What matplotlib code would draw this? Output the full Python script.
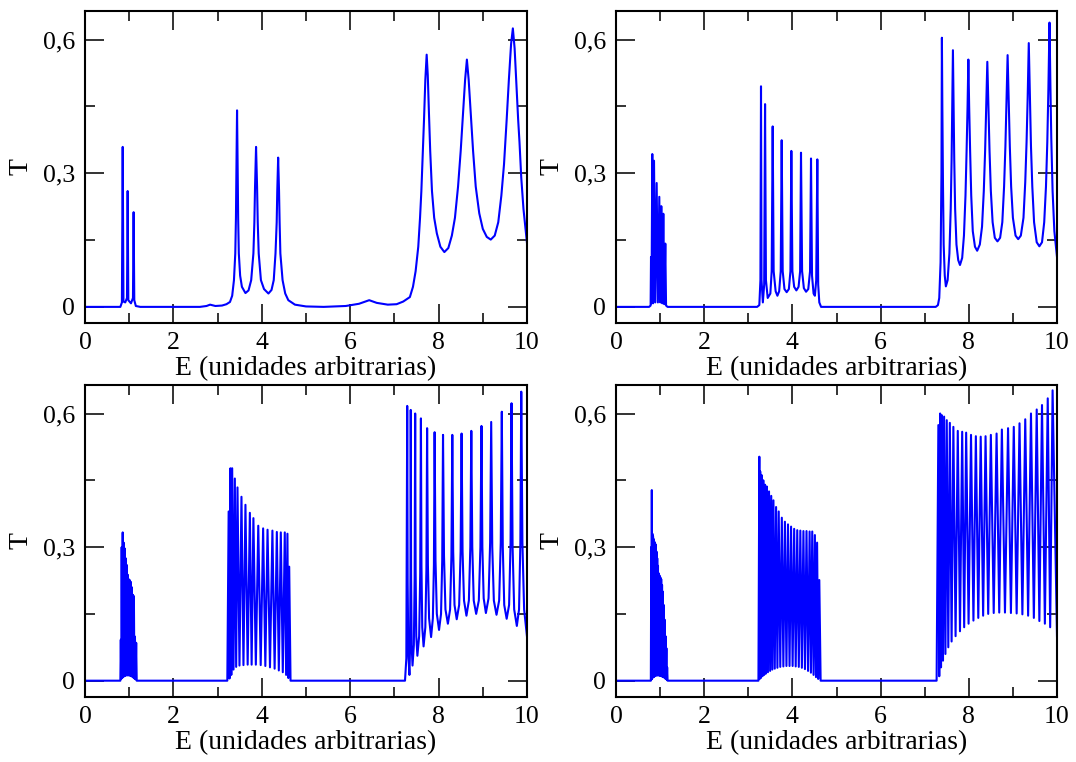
import matplotlib
matplotlib.use("Agg")
import matplotlib.pyplot as plt
from matplotlib.ticker import MultipleLocator, FixedLocator, FuncFormatter

plt.rcParams['font.family'] = ['Liberation Serif', 'DejaVu Serif']

# ---------------- data ----------------
X_LABEL = "E (unidades arbitrarias)"
Y_LABEL = "T"
x_ticks = [0, 2, 4, 6, 8, 10]
y_ticks = [0.0, 0.3, 0.6]
y_tick_labels = ["0", "0,3", "0,6"]

# Panel 1 (top left): polyline vertices (E, T)
tl_E = [0.0, 0.80, 0.835, 0.853, 0.87, 0.91, 0.95, 0.965, 0.98, 1.04, 1.085, 1.10, 1.115, 1.15, 1.25,
        2.6, 2.75, 2.83, 2.95, 3.10, 3.20,
        3.28, 3.33, 3.37, 3.40, 3.415, 3.425, 3.44, 3.455, 3.465, 3.48, 3.51, 3.55, 3.63,
        3.70, 3.76, 3.81, 3.832, 3.847, 3.87, 3.893, 3.908, 3.93, 3.98, 4.05, 4.15,
        4.22, 4.27, 4.31, 4.337, 4.35, 4.37, 4.39, 4.403, 4.42, 4.47, 4.53, 4.60, 4.75, 5.0, 5.4,
        5.9, 6.2, 6.43, 6.6, 6.85, 7.05, 7.2,
        7.35, 7.42, 7.48, 7.54, 7.58, 7.61, 7.64, 7.67, 7.70, 7.73, 7.755, 7.78, 7.81, 7.85, 7.90, 7.96, 8.04, 8.13,
        8.22, 8.30, 8.37, 8.44, 8.50, 8.55, 8.60, 8.64, 8.68, 8.73, 8.78, 8.84, 8.92, 9.00, 9.09, 9.18,
        9.27, 9.35, 9.42, 9.48, 9.54, 9.59, 9.64, 9.68, 9.72, 9.76, 9.80, 9.83, 9.87, 9.92, 10.0]
tl_T = [0.0, 0.0, 0.01, 0.359, 0.012, 0.010, 0.02, 0.26, 0.015, 0.008, 0.02, 0.2125, 0.015, 0.002, 0.0,
        0.0, 0.002, 0.005, 0.002, 0.003, 0.006,
        0.011, 0.025, 0.06, 0.12, 0.20, 0.30, 0.441, 0.30, 0.20, 0.12, 0.07, 0.045, 0.031,
        0.037, 0.06, 0.12, 0.19, 0.27, 0.359, 0.27, 0.19, 0.12, 0.06, 0.04, 0.030,
        0.038, 0.06, 0.12, 0.19, 0.26, 0.335, 0.26, 0.19, 0.12, 0.06, 0.03, 0.015, 0.005, 0.001, 0.0,
        0.002, 0.007, 0.015, 0.009, 0.005, 0.006, 0.012,
        0.022, 0.045, 0.08, 0.135, 0.20, 0.26, 0.34, 0.42, 0.51, 0.566, 0.52, 0.44, 0.35, 0.26, 0.20, 0.165, 0.135, 0.123,
        0.132, 0.16, 0.20, 0.27, 0.35, 0.43, 0.51, 0.555, 0.51, 0.43, 0.35, 0.27, 0.21, 0.175, 0.157, 0.151,
        0.16, 0.19, 0.25, 0.32, 0.42, 0.51, 0.59, 0.625, 0.58, 0.50, 0.42, 0.37, 0.29, 0.22, 0.143]

# Panel 2 (top right)
tr_b1_E = [0.0, 0.75, 0.785, 0.794, 0.805, 0.823, 0.84, 0.862, 0.89, 0.922, 0.95, 0.982, 1.005, 1.027,
           1.05, 1.073, 1.095, 1.118, 1.135, 1.17]
tr_b1_T = [0.0, 0.0, 0.003, 0.112, 0.008, 0.343, 0.008, 0.328, 0.010, 0.278, 0.010, 0.247, 0.010, 0.226,
           0.008, 0.209, 0.006, 0.142, 0.003, 0.0]
tr_b2_E = [1.17, 3.20, 3.25, 3.275, 3.288, 3.30, 3.33, 3.36, 3.38, 3.40, 3.44, 3.50, 3.53, 3.553, 3.575,
           3.62, 3.66, 3.70, 3.735, 3.757, 3.78, 3.82, 3.87, 3.92, 3.955, 3.976, 4.00, 4.04, 4.09, 4.14,
           4.175, 4.195, 4.22, 4.26, 4.31, 4.36, 4.40, 4.422, 4.445, 4.48, 4.51, 4.54, 4.565, 4.585, 4.61, 4.65]
tr_b2_T = [0.0, 0.0, 0.004, 0.06, 0.495, 0.06, 0.010, 0.05, 0.455, 0.06, 0.02, 0.03, 0.08, 0.405, 0.08,
           0.035, 0.025, 0.035, 0.08, 0.374, 0.08, 0.04, 0.033, 0.04, 0.08, 0.350, 0.08, 0.045, 0.037, 0.045,
           0.08, 0.346, 0.08, 0.042, 0.034, 0.04, 0.08, 0.333, 0.07, 0.03, 0.025, 0.06, 0.331, 0.05, 0.01, 0.0]
tr_b3_E = [4.65, 7.25, 7.30, 7.33, 7.36, 7.38, 7.39,
           7.40, 7.415, 7.43, 7.455, 7.48,
           7.52, 7.56, 7.59, 7.61, 7.625, 7.64,
           7.655, 7.67, 7.69, 7.72, 7.76, 7.80,
           7.85, 7.89, 7.925, 7.95, 7.972, 7.99,
           8.008, 8.03, 8.055, 8.09, 8.14, 8.19,
           8.25, 8.30, 8.34, 8.37, 8.395, 8.42,
           8.445, 8.47, 8.50, 8.54, 8.59, 8.65,
           8.71, 8.76, 8.80, 8.83, 8.855, 8.88,
           8.905, 8.93, 8.96, 9.00, 9.06, 9.12,
           9.18, 9.24, 9.28, 9.31, 9.335, 9.36,
           9.385, 9.41, 9.44, 9.48, 9.54, 9.60,
           9.66, 9.71, 9.75, 9.78, 9.805, 9.83,
           9.85, 9.87, 9.90, 9.94, 10.0]
tr_b3_T = [0.0, 0.0, 0.004, 0.02, 0.10, 0.30, 0.604,
           0.45, 0.27, 0.14, 0.07, 0.046,
           0.06, 0.12, 0.22, 0.33, 0.45, 0.576,
           0.45, 0.33, 0.22, 0.14, 0.105, 0.094,
           0.11, 0.16, 0.25, 0.35, 0.45, 0.555,
           0.45, 0.35, 0.25, 0.17, 0.135, 0.126,
           0.14, 0.18, 0.26, 0.35, 0.45, 0.550,
           0.45, 0.35, 0.26, 0.19, 0.155, 0.147,
           0.155, 0.19, 0.27, 0.36, 0.46, 0.565,
           0.46, 0.36, 0.27, 0.20, 0.16, 0.152,
           0.16, 0.20, 0.28, 0.37, 0.47, 0.592,
           0.47, 0.36, 0.27, 0.19, 0.145, 0.136,
           0.145, 0.19, 0.27, 0.37, 0.49, 0.638,
           0.50, 0.38, 0.26, 0.17, 0.112]

# Panel 3 (bottom left): peaks and valleys of the two narrow bands
bl_b1_peak_E = [0.810, 0.830, 0.853, 0.875, 0.898, 0.920, 0.943, 0.966, 0.989, 1.012, 1.035, 1.058, 1.082, 1.106, 1.130, 1.158]
bl_b1_peak_T = [0.092, 0.300, 0.333, 0.310, 0.297, 0.275, 0.260, 0.238, 0.228, 0.226, 0.222, 0.210, 0.193, 0.190, 0.099, 0.085]
bl_b1_val_E = [0.820, 0.841, 0.864, 0.886, 0.909, 0.931, 0.954, 0.977, 1.000, 1.023, 1.046, 1.070, 1.094, 1.118, 1.144]
bl_b1_val_T = [0.004, 0.006, 0.008, 0.010, 0.011, 0.012, 0.012, 0.012, 0.012, 0.011, 0.010, 0.009, 0.007, 0.005, 0.003]
bl_b1_ends = [(0.80, 0.0), (1.17, 0.0)]

bl_b2_peak_E = [3.25, 3.29, 3.33, 3.39, 3.45, 3.54, 3.63, 3.73, 3.81, 3.92, 4.03, 4.13, 4.24, 4.34, 4.43, 4.52, 4.58, 4.62]
bl_b2_peak_T = [0.380, 0.477, 0.477, 0.454, 0.434, 0.413, 0.395, 0.377, 0.365, 0.348, 0.342, 0.339, 0.337, 0.334, 0.333, 0.333, 0.330, 0.256]
bl_b2_val_E = [3.27, 3.31, 3.36, 3.42, 3.495, 3.585, 3.68, 3.77, 3.865, 3.975, 4.08, 4.185, 4.29, 4.385, 4.475, 4.55, 4.60]
bl_b2_val_T = [0.005, 0.013, 0.025, 0.031, 0.034, 0.035, 0.036, 0.036, 0.036, 0.035, 0.033, 0.030, 0.027, 0.023, 0.019, 0.013, 0.006]
bl_b2_ends = [(3.22, 0.0), (4.65, 0.0)]

# third band of panel 3: polyline vertices (peaks, shoulders, valleys)
bl_b3_E = [4.65, 7.24, 7.27, 7.29, 7.30, 7.315, 7.34, 7.355, 7.364, 7.37, 7.378, 7.39, 7.41,
           7.44, 7.458, 7.47, 7.48, 7.495, 7.52, 7.56, 7.584, 7.60, 7.612, 7.63, 7.66,
           7.70, 7.724, 7.74, 7.758, 7.785, 7.83, 7.87, 7.894, 7.91, 7.93, 7.96, 8.01,
           8.055, 8.082, 8.10, 8.122, 8.155, 8.21, 8.26, 8.29, 8.31, 8.33, 8.36, 8.41,
           8.465, 8.498, 8.52, 8.542, 8.575, 8.63, 8.685, 8.718, 8.74, 8.762, 8.795, 8.85,
           8.91, 8.946, 8.97, 8.99, 9.02, 9.07, 9.13, 9.166, 9.19, 9.214, 9.25, 9.31,
           9.37, 9.406, 9.43, 9.452, 9.485, 9.54, 9.595, 9.628, 9.65, 9.674, 9.71, 9.77,
           9.82, 9.85, 9.87, 9.896, 9.935, 10.0]
bl_b3_T = [0.0, 0.0, 0.05, 0.617, 0.22, 0.06, 0.013, 0.08, 0.24, 0.608, 0.24, 0.08, 0.034,
           0.08, 0.23, 0.600, 0.25, 0.10, 0.056, 0.10, 0.24, 0.589, 0.26, 0.12, 0.077,
           0.12, 0.25, 0.567, 0.26, 0.14, 0.098, 0.14, 0.26, 0.558, 0.27, 0.15, 0.114,
           0.15, 0.27, 0.552, 0.28, 0.16, 0.128, 0.16, 0.28, 0.552, 0.29, 0.17, 0.138,
           0.17, 0.29, 0.555, 0.29, 0.18, 0.146, 0.18, 0.30, 0.561, 0.30, 0.18, 0.150,
           0.18, 0.30, 0.572, 0.30, 0.185, 0.152, 0.185, 0.31, 0.581, 0.30, 0.18, 0.148,
           0.18, 0.31, 0.604, 0.30, 0.17, 0.139, 0.17, 0.31, 0.623, 0.30, 0.16, 0.123,
           0.16, 0.31, 0.649, 0.31, 0.16, 0.099]

# Panel 4 (bottom right)
br_b1_peak_E = [0.800, 0.812, 0.825, 0.840, 0.855, 0.870, 0.886, 0.902, 0.918, 0.935, 0.952, 0.970, 0.988, 1.006, 1.025, 1.044, 1.063, 1.083, 1.103, 1.123, 1.143, 1.160]
br_b1_peak_T = [0.300, 0.428, 0.330, 0.324, 0.318, 0.312, 0.309, 0.305, 0.290, 0.275, 0.258, 0.241, 0.236, 0.232, 0.228, 0.215, 0.200, 0.170, 0.137, 0.100, 0.073, 0.030]
br_b1_val_E = [0.806, 0.818, 0.832, 0.847, 0.862, 0.878, 0.894, 0.910, 0.926, 0.943, 0.961, 0.979, 0.997, 1.015, 1.034, 1.053, 1.073, 1.093, 1.113, 1.133, 1.151]
br_b1_val_T = [0.003, 0.005, 0.007, 0.008, 0.009, 0.010, 0.011, 0.012, 0.012, 0.012, 0.012, 0.012, 0.011, 0.011, 0.010, 0.009, 0.008, 0.007, 0.005, 0.004, 0.002]
br_b1_ends = [(0.79, 0.0), (1.17, 0.0)]

br_b2_peak_E = [3.25, 3.27, 3.30, 3.34, 3.38, 3.42, 3.47, 3.52, 3.57, 3.63, 3.69, 3.76, 3.83, 3.90, 3.97, 4.04, 4.11, 4.18, 4.25, 4.32, 4.39, 4.45, 4.51, 4.56, 4.61]
br_b2_peak_T = [0.503, 0.470, 0.462, 0.450, 0.440, 0.436, 0.425, 0.415, 0.405, 0.390, 0.380, 0.366, 0.357, 0.351, 0.346, 0.341, 0.338, 0.337, 0.336, 0.336, 0.335, 0.335, 0.327, 0.310, 0.226]
br_b2_val_E = [3.26, 3.285, 3.32, 3.36, 3.40, 3.445, 3.495, 3.545, 3.60, 3.66, 3.725, 3.795, 3.865, 3.935, 4.005, 4.075, 4.145, 4.215, 4.285, 4.355, 4.42, 4.48, 4.535, 4.585]
br_b2_val_T = [0.004, 0.006, 0.010, 0.013, 0.016, 0.019, 0.022, 0.025, 0.027, 0.029, 0.031, 0.032, 0.033, 0.033, 0.033, 0.032, 0.031, 0.029, 0.026, 0.022, 0.018, 0.013, 0.008, 0.004]
br_b2_ends = [(3.23, 0.0), (4.64, 0.0)]

br_b3_peak_E = [7.31, 7.35, 7.39, 7.44, 7.50, 7.57, 7.65, 7.75, 7.85, 7.94, 8.05, 8.16, 8.27, 8.38, 8.50, 8.63, 8.75, 8.89, 9.02, 9.15, 9.28, 9.41, 9.54, 9.66, 9.79, 9.90]
br_b3_peak_T = [0.574, 0.600, 0.596, 0.593, 0.585, 0.579, 0.570, 0.561, 0.559, 0.557, 0.552, 0.549, 0.548, 0.549, 0.552, 0.555, 0.564, 0.567, 0.570, 0.578, 0.587, 0.600, 0.609, 0.619, 0.634, 0.652]
br_b3_val_E = [7.33, 7.37, 7.415, 7.47, 7.535, 7.61, 7.70, 7.80, 7.895, 7.995, 8.105, 8.215, 8.325, 8.44, 8.565, 8.69, 8.82, 8.955, 9.085, 9.215, 9.345, 9.475, 9.60, 9.725, 9.845]
br_b3_val_T = [0.010, 0.030, 0.045, 0.060, 0.075, 0.088, 0.100, 0.111, 0.120, 0.128, 0.135, 0.141, 0.146, 0.150, 0.152, 0.153, 0.153, 0.152, 0.151, 0.149, 0.146, 0.141, 0.134, 0.128, 0.120]
br_b3_ends = [(7.27, 0.0), (10.0, 0.100)]

LINE_COLOR = "#0000ff"


def band_polyline(peak_E, peak_T, val_E, val_T, ends):
    """Interleave read peaks and valleys into one polyline."""
    E = [ends[0][0]]
    T = [ends[0][1]]
    for i in range(len(peak_E)):
        E.append(peak_E[i]); T.append(peak_T[i])
        if i < len(val_E):
            E.append(val_E[i]); T.append(val_T[i])
    E.append(ends[1][0]); T.append(ends[1][1])
    return E, T


def join(*parts):
    E, T = [], []
    for pe, pt in parts:
        E += list(pe); T += list(pt)
    return E, T


tr_E, tr_T = join((tr_b1_E, tr_b1_T), (tr_b2_E, tr_b2_T), (tr_b3_E, tr_b3_T))
bl_E, bl_T = join(([0.0], [0.0]),
                  band_polyline(bl_b1_peak_E, bl_b1_peak_T, bl_b1_val_E, bl_b1_val_T, bl_b1_ends),
                  band_polyline(bl_b2_peak_E, bl_b2_peak_T, bl_b2_val_E, bl_b2_val_T, bl_b2_ends),
                  (bl_b3_E, bl_b3_T))
br_E, br_T = join(([0.0], [0.0]),
                  band_polyline(br_b1_peak_E, br_b1_peak_T, br_b1_val_E, br_b1_val_T, br_b1_ends),
                  band_polyline(br_b2_peak_E, br_b2_peak_T, br_b2_val_E, br_b2_val_T, br_b2_ends),
                  band_polyline(br_b3_peak_E, br_b3_peak_T, br_b3_val_E, br_b3_val_T, br_b3_ends))

panels = [(tl_E, tl_T), (tr_E, tr_T), (bl_E, bl_T), (br_E, br_T)]

# ---------------- figure ----------------
W, H = 1076, 762
fig = plt.figure(figsize=(W / 100, H / 100), dpi=100)

ax_rects_px = [(85, 11, 527, 322.7), (616, 11, 1057, 322.7),
               (85, 385, 527, 696.5), (616, 385, 1057, 696.5)]


def fmt_y(v, pos):
    for t, lab in zip(y_ticks, y_tick_labels):
        if abs(v - t) < 1e-9:
            return lab
    return ""


for (E, T), (x0, y0, x1, y1) in zip(panels, ax_rects_px):
    ax = fig.add_axes([x0 / W, 1 - y1 / H, (x1 - x0) / W, (y1 - y0) / H])
    ax.plot(E, T, color=LINE_COLOR, lw=1.5, solid_joinstyle='round')
    ax.set_xlim(0, 10)
    ax.set_ylim(-0.0355, 0.664)
    ax.xaxis.set_major_locator(FixedLocator(x_ticks))
    ax.xaxis.set_minor_locator(MultipleLocator(1))
    ax.yaxis.set_major_locator(FixedLocator(y_ticks))
    ax.yaxis.set_minor_locator(MultipleLocator(0.15))
    ax.yaxis.set_major_formatter(FuncFormatter(fmt_y))
    ax.tick_params(which='both', direction='in', top=True, right=True, width=1.2,
                   labelsize=18.5, color='#111111')
    ax.tick_params(axis='x', pad=7)
    ax.tick_params(axis='y', pad=7)
    ax.tick_params(which='major', length=13.5)
    ax.tick_params(which='minor', length=7)
    for s in ax.spines.values():
        s.set_linewidth(1.5)
    ax.set_xlabel(X_LABEL, fontsize=20, labelpad=1)
    ax.set_ylabel(Y_LABEL, fontsize=20, labelpad=7)

fig.savefig("out.png", dpi=100)
